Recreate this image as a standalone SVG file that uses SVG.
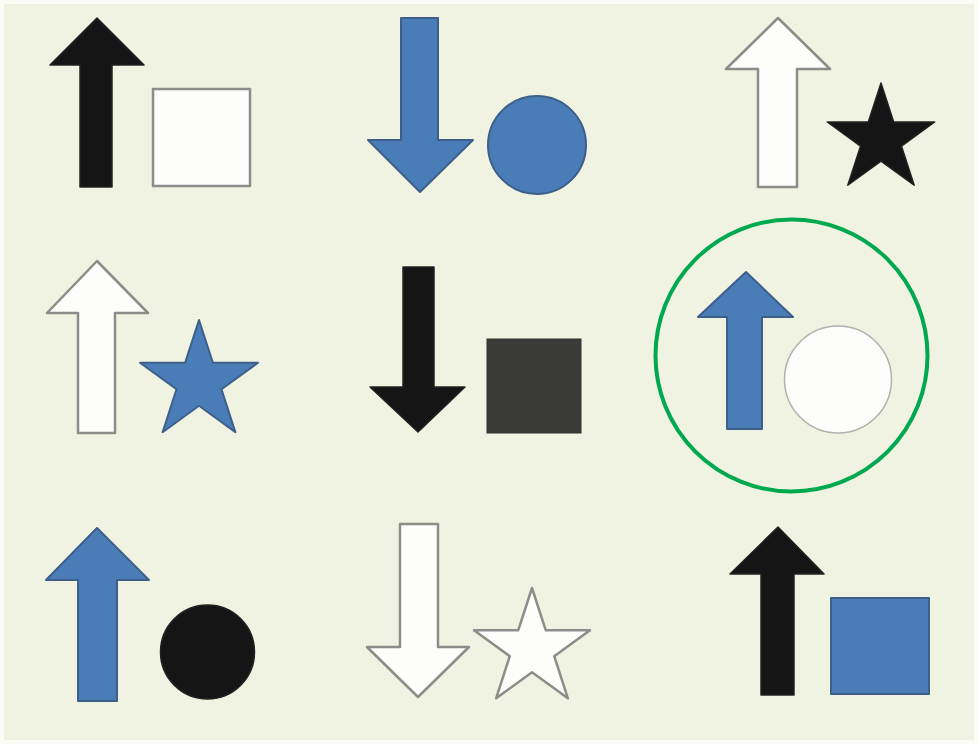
<svg xmlns="http://www.w3.org/2000/svg" width="978" height="744" viewBox="0 0 978 744">
<style>
.blk{fill:#151515;stroke:#222;stroke-width:1.5;stroke-linejoin:round}
.blu{fill:#4a7db8;stroke:#3d5f8a;stroke-width:2;stroke-linejoin:round}
.wht{fill:#fdfdfb;stroke:#8c8c88;stroke-width:2.5;stroke-linejoin:round}
.wht2{fill:#fdfdfb;stroke:#b0b0ac;stroke-width:1.5}
.dk{fill:#3a3a38;stroke:#333;stroke-width:1}
</style>
<rect x="0" y="0" width="978" height="744" fill="#fbfcf6"/>
<rect x="4" y="4" width="970" height="736" fill="#f0f3e1"/>

<g id="cell1">
<polygon class="blk" points="97,18 144,65 112,65 112,187 80,187 80,65 50,65"/>
<rect class="wht" x="153" y="89" width="97" height="97"/>
</g>

<g id="cell2">
<polygon class="blu" points="401,18 438,18 438,140 473,140 420,192 368,140 401,140"/>
<circle class="blu" cx="537" cy="145" r="49"/>
</g>

<g id="cell3">
<polygon class="wht" points="778,18 830,69 797,69 797,187 758,187 758,69 726,69"/>
<polygon class="blk" points="881,83 893.7,122 934.7,122 901.5,146.2 914.2,185.2 881,161.1 847.8,185.2 860.5,146.2 827.3,122 868.3,122"/>
</g>

<g id="cell4">
<polygon class="wht" points="97,261 148,313 115,313 115,433 78,433 78,313 47,313"/>
<polygon class="blu" points="199,320 212.9,362.8 258,362.8 221.5,389.3 235.4,432.2 199,405.7 162.6,432.2 176.5,389.3 140,362.8 185.1,362.8"/>
</g>

<g id="cell5">
<polygon class="blk" points="403,267 434,267 434,387 465,387 418,432 370,387 403,387"/>
<rect class="dk" x="487" y="339" width="94" height="94"/>
</g>

<g id="cell6">
<polygon class="blu" points="746,272 793,317 762,317 762,429 727,429 727,317 698,317"/>
<circle class="wht2" cx="838" cy="379.5" r="53.5"/>
<circle cx="791.5" cy="355.5" r="136" fill="none" stroke="#00a84f" stroke-width="4"/>
</g>

<g id="cell7">
<polygon class="blu" points="97,528 149,580 117,580 117,701 78,701 78,580 46,580"/>
<circle class="blk" cx="207.5" cy="652" r="47"/>
</g>

<g id="cell8">
<polygon class="wht" points="400,524 438,524 438,647 469,647 418,697 367,647 400,647"/>
<polygon class="wht" points="532,588 545.7,630.2 590,630.2 554.2,656.2 567.9,698.3 532,672.3 496.1,698.3 509.8,656.2 474,630.2 518.3,630.2"/>
</g>

<g id="cell9">
<polygon class="blk" points="778,527 824,574 794,574 794,695 761,695 761,574 730,574"/>
<rect class="blu" x="831" y="598" width="98" height="96"/>
</g>
</svg>
